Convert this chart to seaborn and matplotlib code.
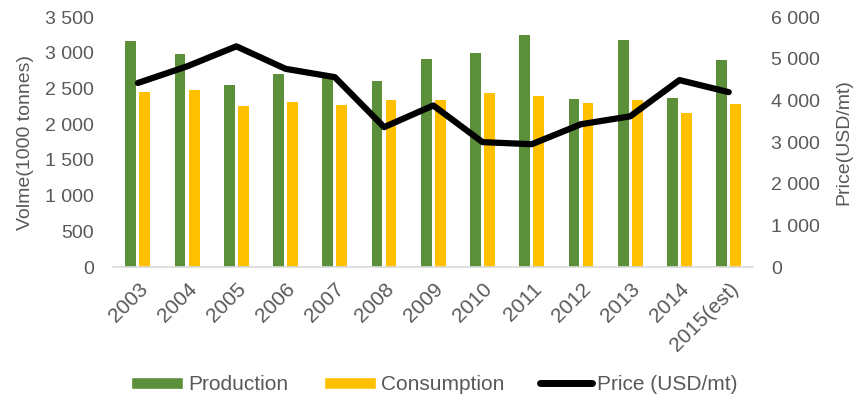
import matplotlib
matplotlib.use("Agg")
import matplotlib.pyplot as plt
import seaborn as sns
import numpy as np
import pandas as pd
from matplotlib.ticker import FuncFormatter
from matplotlib.patches import Patch
from matplotlib.lines import Line2D

years = ["2003", "2004", "2005", "2006", "2007", "2008", "2009", "2010",
         "2011", "2012", "2013", "2014", "2015(est)"]
production = [3160, 2980, 2550, 2710, 2650, 2610, 2920, 3000, 3250, 2350, 3180, 2365, 2900]
consumption = [2450, 2480, 2250, 2310, 2270, 2335, 2335, 2435, 2395, 2295, 2340, 2155, 2280]
price = [4420, 4820, 5300, 4760, 4560, 3360, 3880, 3000, 2950, 3430, 3620, 4490, 4200]

sns.set_theme(style="white")
plt.rcParams['font.family'] = ['Liberation Sans', 'DejaVu Sans']

df = pd.DataFrame({
    "Year": years * 2,
    "Value": production + consumption,
    "Series": ["Production"] * len(years) + ["Consumption"] * len(years),
})

green = "#5b8f3a"
yellow = "#ffc000"
grey = "#595959"
fs = 14

fig = plt.figure(figsize=(8.58, 4.09), dpi=100)
ax = fig.add_axes([0.132, 0.347, 0.746, 0.611])
sns.barplot(data=df, x="Year", y="Value", hue="Series", ax=ax,
            palette=[green, yellow], width=0.57, gap=0.23, legend=False,
            saturation=1, edgecolor="none")
ax.set_ylim(0, 3500)
ax.set_xlim(-0.5, len(years) - 0.5)
ax.set_yticks(np.arange(0, 3501, 500))
fmt = FuncFormatter(lambda v, p: f"{int(v):,}".replace(",", " "))
ax.yaxis.set_major_formatter(fmt)
ax.set_xlabel("")
ax.set_ylabel("Volme(1000 tonnes)", color=grey, fontsize=fs, labelpad=8)
ax.tick_params(axis="y", colors=grey, labelsize=fs, length=0, pad=14)
ax.tick_params(axis="x", colors=grey, labelsize=15, length=0, pad=9)
plt.setp(ax.get_xticklabels(), rotation=45, ha="right", rotation_mode="anchor")
for s in ["top", "right", "left"]:
    ax.spines[s].set_visible(False)
ax.spines["bottom"].set_color("#d9d9d9")
ax.spines["bottom"].set_linewidth(1.2)

ax2 = ax.twinx()
sns.lineplot(x=np.arange(len(years)), y=price, ax=ax2, color="black", linewidth=4.5)
ax2.set_ylim(0, 6000)
ax2.set_yticks(np.arange(0, 6001, 1000))
ax2.yaxis.set_major_formatter(fmt)
ax2.set_ylabel("Price(USD/mt)", color=grey, fontsize=fs, labelpad=11)
ax2.tick_params(axis="y", colors=grey, labelsize=fs, length=0, pad=13)
for s in ["top", "right", "left", "bottom"]:
    ax2.spines[s].set_visible(False)
ax2.set_xlim(-0.5, len(years) - 0.5)

handles = [Patch(facecolor=green, label="Production"),
           Patch(facecolor=yellow, label="Consumption"),
           Line2D([0], [0], color="black", linewidth=5, label="Price (USD/mt)",
                  solid_capstyle="round")]
leg = fig.legend(handles=handles, loc="center", bbox_to_anchor=(0.506, 0.06), ncol=3,
                 frameon=False, fontsize=15, handlelength=2.5, handleheight=0.5,
                 columnspacing=1.7, handletextpad=0.25)
for t in leg.get_texts():
    t.set_color(grey)

fig.savefig("out.png", dpi=100)
